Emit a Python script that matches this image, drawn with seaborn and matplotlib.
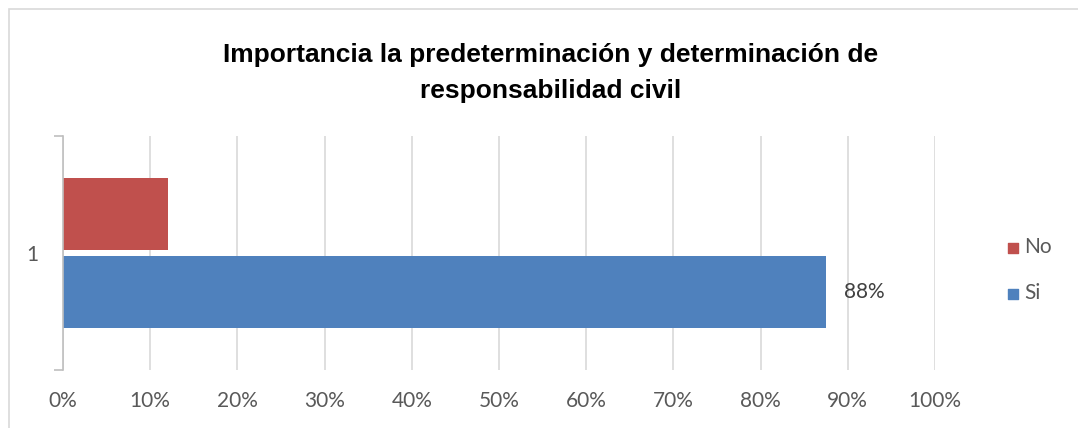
import matplotlib
matplotlib.use("Agg")
import matplotlib.pyplot as plt
from matplotlib.patches import Rectangle
from matplotlib.ticker import PercentFormatter
import seaborn as sns
import pandas as pd

# Survey result: share of answers per option
categories = ["1"]
series = ["No", "Si"]
values_no = [0.12]
values_si = [0.875]
x_ticks = [0.0, 0.1, 0.2, 0.3, 0.4, 0.5, 0.6, 0.7, 0.8, 0.9, 1.0]
title = "Importancia la predeterminación y determinación de\nresponsabilidad civil"
colors = {"No": "#C0504D", "Si": "#4F81BD"}

df = pd.DataFrame({
    "categoria": categories * 2,
    "respuesta": ["No"] * len(categories) + ["Si"] * len(categories),
    "valor": values_no + values_si,
})

sns.set_theme(style="white")
plt.rcParams["font.family"] = ["Lato", "DejaVu Sans"]

W, H = 1078, 428
fig = plt.figure(figsize=(W / 100, H / 100), dpi=100)
ax = fig.add_axes([63 / W, 1 - 370 / H, (935 - 63) / W, (370 - 136) / H])

sns.barplot(data=df, y="categoria", x="valor", hue="respuesta",
            hue_order=series, palette=colors, orient="h",
            width=0.662, gap=0.065, saturation=1, errorbar=None,
            linewidth=0, ax=ax, legend=False)

ax.set_xlim(0, 1)
ax.set_ylim(0.5, -0.5)
ax.set_xticks(x_ticks)
ax.xaxis.set_major_formatter(PercentFormatter(1.0, decimals=0))
ax.grid(axis="x", color="#d9d9d9", linewidth=1.2)
ax.set_axisbelow(True)
ax.set_xlabel("")
ax.set_ylabel("")

for side in ["top", "right", "bottom"]:
    ax.spines[side].set_visible(False)
ax.spines["left"].set_color("#bfbfbf")
ax.spines["left"].set_linewidth(1.2)

ax.tick_params(axis="x", length=0, pad=15, labelsize=15, labelcolor="#595959")
ax.tick_params(axis="y", which="major", length=0, pad=18, labelsize=15,
               labelcolor="#595959")
ax.set_yticks([-0.5, 0.5], minor=True)
ax.tick_params(axis="y", which="minor", length=6.5, width=1.2, color="#bfbfbf",
               left=True)

# value label for the "Si" bar
for container, name in zip(ax.containers, series):
    if name == "Si":
        ax.bar_label(container, labels=[f"{v:.0%}" for v in values_si],
                     padding=13, fontsize=15, color="#404040")

# legend on the right
for name in series:
    ax.scatter([], [], marker="s", s=55, color=colors[name], label=name)
leg = ax.legend(loc="center left", bbox_to_anchor=(994 / W, 1 - 270 / H),
                bbox_transform=fig.transFigure, frameon=False,
                fontsize=15, labelcolor="#595959", handletextpad=0.05,
                labelspacing=1.25, borderaxespad=0, handlelength=1.0)

fig.text(551 / W, 1 - 73 / H, title, ha="center", va="center",
         fontsize=19, fontweight="bold", color="#000000",
         family=["Liberation Sans", "DejaVu Sans"], linespacing=1.6)

fig.patches.append(Rectangle((9 / W, -0.05), 1.2, 1 - 9 / H + 0.05,
                             transform=fig.transFigure, fill=False,
                             edgecolor="#d9d9d9", linewidth=1.2))

fig.savefig("out.png", dpi=100)
